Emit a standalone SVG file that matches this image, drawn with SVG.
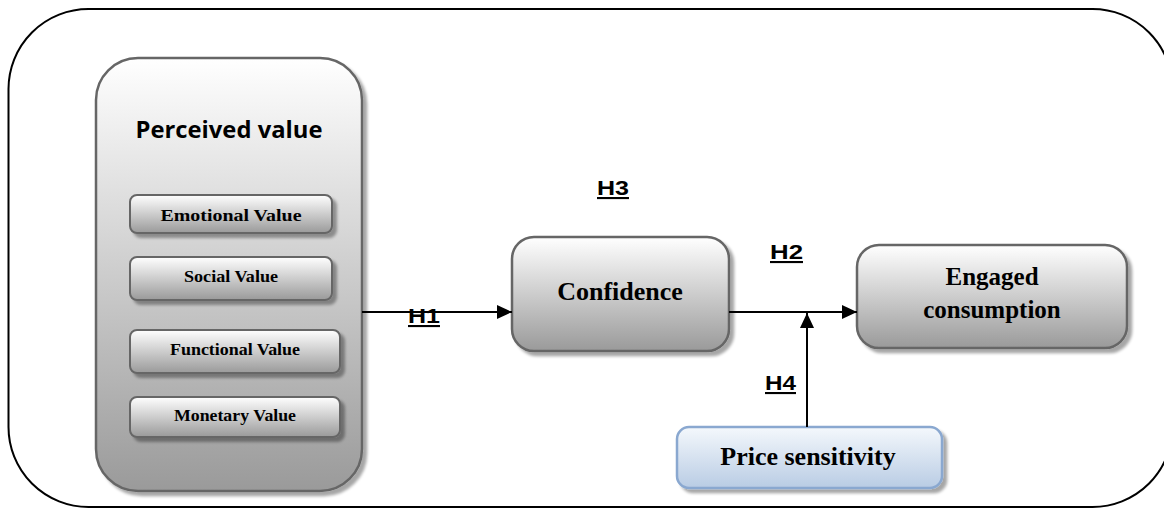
<svg xmlns="http://www.w3.org/2000/svg" width="1164" height="508" viewBox="0 0 1164 508">
  <defs>
    <linearGradient id="grayFill" x1="0" y1="0" x2="0" y2="1">
      <stop offset="0" stop-color="#ffffff"/>
      <stop offset="1" stop-color="#9a9a9a"/>
    </linearGradient>
    <linearGradient id="blueFill" x1="0" y1="0" x2="0" y2="1">
      <stop offset="0" stop-color="#f4f8fc"/>
      <stop offset="1" stop-color="#b9cce4"/>
    </linearGradient>
    <filter id="shadow" x="-10%" y="-10%" width="130%" height="130%">
      <feGaussianBlur in="SourceAlpha" stdDeviation="1.5"/>
      <feOffset dx="4" dy="4" result="off"/>
      <feComponentTransfer><feFuncA type="linear" slope="0.35"/></feComponentTransfer>
      <feMerge><feMergeNode/><feMergeNode in="SourceGraphic"/></feMerge>
    </filter>
    <marker id="arrow" viewBox="0 0 15 14" refX="15" refY="7" markerWidth="15" markerHeight="14" markerUnits="userSpaceOnUse" orient="auto">
      <path d="M0,0 L15,7 L0,14 Z" fill="#000"/>
    </marker>
  </defs>
  <style>
    .box { fill: url(#grayFill); stroke: #666; stroke-width: 2.5; filter: url(#shadow); }
    .sub { fill: url(#grayFill); stroke: #666; stroke-width: 2; filter: url(#shadow); }
    .blue { fill: url(#blueFill); stroke: #8aa8d0; stroke-width: 2.5; filter: url(#shadow); }
    .serif { font-family: "Liberation Serif", "Times New Roman", serif; font-weight: bold; fill: #000; text-anchor: middle; }
    .hyp { font-family: "Liberation Sans", Arial, sans-serif; font-weight: bold; font-size: 21px; fill: #000; text-decoration: underline; }
    .title { font-family: "Open Sans", "Liberation Sans", sans-serif; font-weight: bold; font-size: 23px; fill: #000; text-anchor: middle; }
    .link { stroke: #000; stroke-width: 2; fill: none; }
  </style>

  <rect width="1164" height="508" fill="#fff"/>

  <!-- outer frame -->
  <rect x="8.5" y="9" width="1164" height="498" rx="80" ry="80" fill="none" stroke="#000" stroke-width="2"/>

  <!-- perceived value construct with its four dimensions -->
  <g id="perceived-value">
    <rect class="box" x="96" y="58" width="266" height="433" rx="42" ry="42"/>
    <text class="title" x="229" y="138" textLength="187" lengthAdjust="spacingAndGlyphs">Perceived value</text>
  </g>
  <g id="emotional-value">
    <rect class="sub" x="130" y="195" width="202" height="38" rx="7" ry="7"/>
    <text class="serif" x="231" y="221" font-size="16" textLength="141" lengthAdjust="spacingAndGlyphs">Emotional Value</text>
  </g>
  <g id="social-value">
    <rect class="sub" x="130" y="257" width="202" height="43" rx="7" ry="7"/>
    <text class="serif" x="231" y="282" font-size="16" textLength="94" lengthAdjust="spacingAndGlyphs">Social Value</text>
  </g>
  <g id="functional-value">
    <rect class="sub" x="130" y="330" width="210" height="43" rx="7" ry="7"/>
    <text class="serif" x="235" y="355" font-size="16" textLength="130" lengthAdjust="spacingAndGlyphs">Functional Value</text>
  </g>
  <g id="monetary-value">
    <rect class="sub" x="130" y="397" width="210" height="40" rx="7" ry="7"/>
    <text class="serif" x="235" y="421" font-size="16" textLength="122" lengthAdjust="spacingAndGlyphs">Monetary Value</text>
  </g>

  <!-- mediator -->
  <g id="confidence">
    <rect class="box" x="512" y="237" width="217" height="114" rx="22" ry="22"/>
    <text class="serif" x="620" y="300" font-size="26">Confidence</text>
  </g>

  <!-- outcome -->
  <g id="engaged-consumption">
    <rect class="box" x="857" y="245" width="270" height="103" rx="22" ry="22"/>
    <text class="serif" x="992" y="285" font-size="25">Engaged</text>
    <text class="serif" x="992" y="318" font-size="25">consumption</text>
  </g>

  <!-- moderator -->
  <g id="price-sensitivity">
    <rect class="blue" x="677" y="427" width="265" height="61" rx="12" ry="12"/>
    <text class="serif" x="808" y="465" font-size="26">Price sensitivity</text>
  </g>

  <!-- hypothesised paths -->
  <g id="connectors">
    <line class="link" x1="362" y1="312" x2="512" y2="312" marker-end="url(#arrow)"/>
    <line class="link" x1="729" y1="312" x2="857" y2="312" marker-end="url(#arrow)"/>
    <line class="link" x1="807" y1="427" x2="807" y2="313" marker-end="url(#arrow)"/>
  </g>

  <g id="hypothesis-labels">
    <text class="hyp" x="408" y="323" textLength="32" lengthAdjust="spacingAndGlyphs">H1</text>
    <text class="hyp" x="770" y="259" textLength="33" lengthAdjust="spacingAndGlyphs">H2</text>
    <text class="hyp" x="597" y="195" textLength="32" lengthAdjust="spacingAndGlyphs">H3</text>
    <text class="hyp" x="765" y="390" textLength="31" lengthAdjust="spacingAndGlyphs">H4</text>
  </g>
</svg>
